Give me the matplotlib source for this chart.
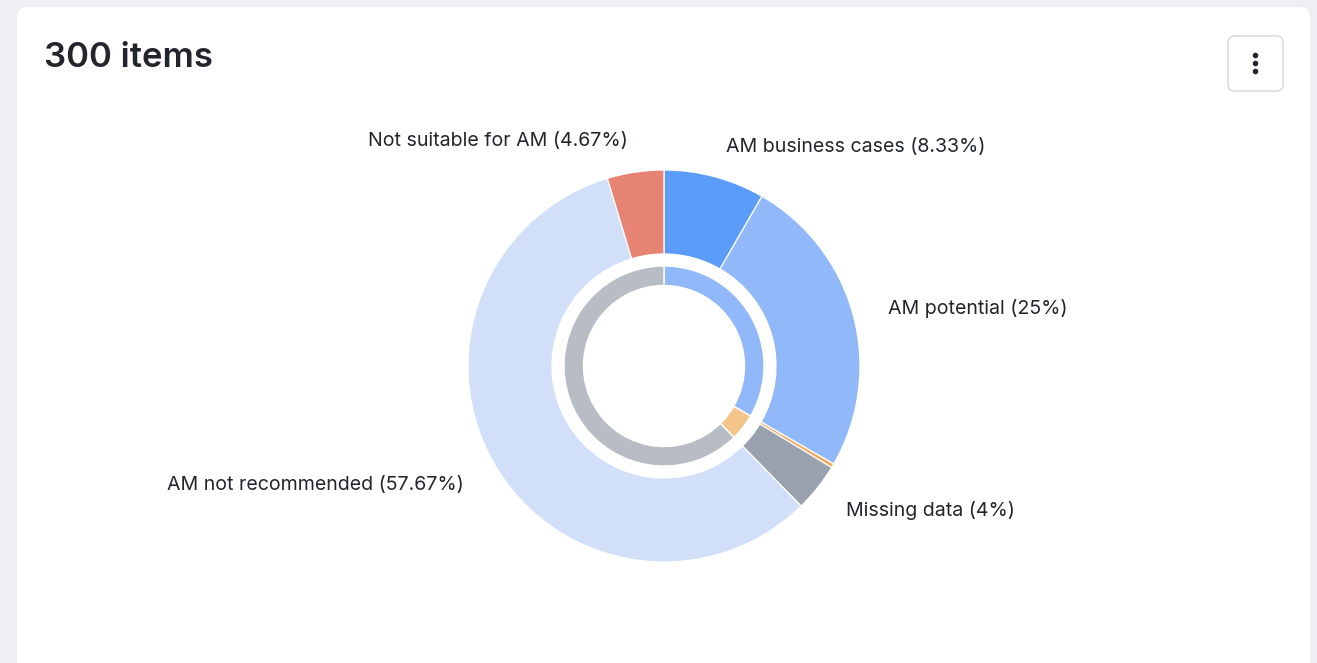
import matplotlib
import matplotlib.pyplot as plt
import numpy as np
from matplotlib.patches import FancyBboxPatch
from matplotlib.lines import Line2D

plt.rcParams['font.family'] = ['Inter', 'DejaVu Sans']

# outer ring: item counts out of 300
outer_labels = ['AM business cases', 'AM potential', '', 'Missing data',
                'AM not recommended', 'Not suitable for AM']
outer_counts = [25, 75, 1, 12, 173, 14]
outer_colors = ['#5A9CF8', '#91B8F9', '#F2A75C', '#9AA1AE', '#D1DFF9', '#E78372']

# inner ring
inner_counts = [100, 13, 187]
inner_colors = ['#91B8F9', '#F4C58A', '#B8BCC4']

title = '300 items'

W, H = 1317, 663
fig = plt.figure(figsize=(W / 100, H / 100), dpi=100)
fig.patch.set_facecolor('#EEEFF3')

def px(x, y):
    # pixel (from top-left) -> figure fraction
    return x / W, 1 - y / H

# white card
card = FancyBboxPatch(px(17, 700), (1310 - 17) / W, (700 - 7) / H,
                      boxstyle='round,pad=0,rounding_size=0.008',
                      transform=fig.transFigure, facecolor='white',
                      edgecolor='none', mutation_aspect=W / H, zorder=-10)
fig.patches.append(card)

fig.text(*px(44, 58), title, fontsize=25, fontweight='semibold',
         color='#22252B', ha='left', va='center')

# menu button
btn = FancyBboxPatch(px(1228, 91), 55 / W, 55 / H,
                     boxstyle='round,pad=0,rounding_size=0.005',
                     transform=fig.transFigure, facecolor='white',
                     edgecolor='#D3D6DC', linewidth=1.0, mutation_aspect=W / H,
                     zorder=-5)
fig.patches.append(btn)
dots_y = [px(1255, yy)[1] for yy in (55, 63, 71)]
fig.add_artist(Line2D([1255 / W] * 3, dots_y, transform=fig.transFigure,
                      linestyle='none', marker='o', markersize=3.0,
                      color='#22252B'))

# donut
R = 196.0
cx, cy = 664, 366
half = 260
ax = fig.add_axes([(cx - half) / W, (H - cy - half) / H, 2 * half / W, 2 * half / H])
ax.set_facecolor('none')

ax.pie(outer_counts, radius=1.0, startangle=90, counterclock=False,
       colors=outer_colors,
       wedgeprops=dict(width=(R - 112) / R, edgecolor='white', linewidth=0.9))
ax.pie(inner_counts, radius=100 / R, startangle=90, counterclock=False,
       colors=inner_colors,
       wedgeprops=dict(width=(100 - 80.5) / R, edgecolor='white', linewidth=1.0))

ax.set_xlim(-half / R, half / R)
ax.set_ylim(-half / R, half / R)
ax.set_aspect('equal')
ax.axis('off')

total = sum(outer_counts)
cum = np.cumsum([0] + outer_counts)
for i, lab in enumerate(outer_labels):
    if not lab:
        continue
    mid = (cum[i] + cum[i + 1]) / 2 / total * 2 * np.pi
    x, y = np.sin(mid), np.cos(mid)
    pct = outer_counts[i] / total * 100
    txt = '{} ({}%)'.format(lab, ('%.2f' % pct).rstrip('0').rstrip('.'))
    r = 1.17
    side = 1 if x >= 0 else -1
    ax.annotate(txt, xy=(r * x, r * y), xytext=(side * 2, -1.5),
                textcoords='offset points',
                ha='left' if side > 0 else 'right', va='center',
                fontsize=14.1, color='#22252B', annotation_clip=False)

fig.savefig('out.png', dpi=100, facecolor=fig.get_facecolor())
